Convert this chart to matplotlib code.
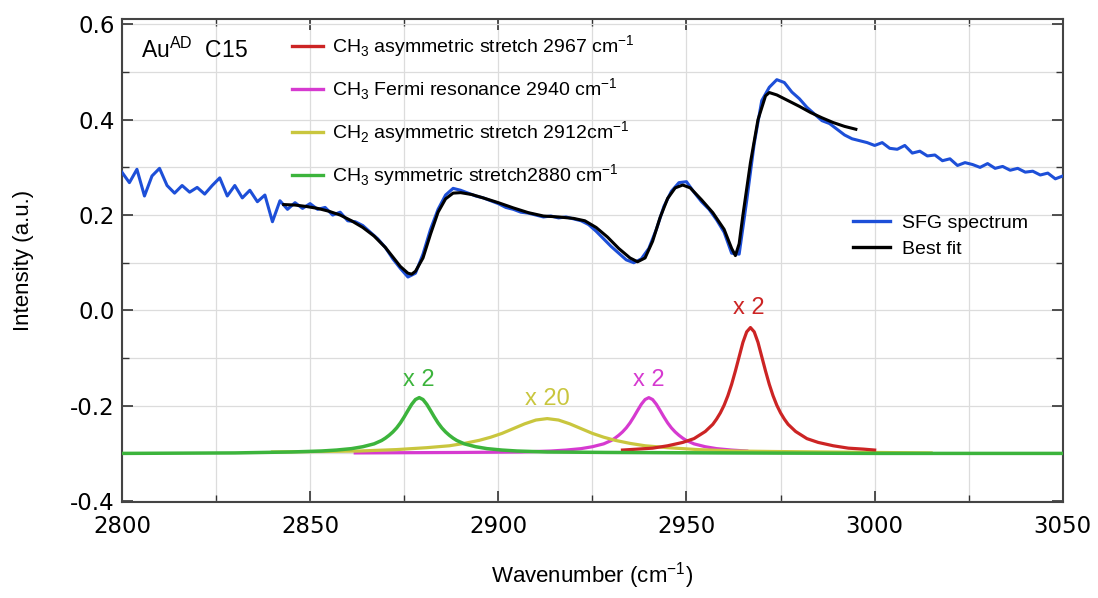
import matplotlib
matplotlib.use("Agg")
import matplotlib.pyplot as plt
from matplotlib.lines import Line2D
from matplotlib.ticker import MultipleLocator, FormatStrFormatter

# ---- measured SFG spectrum (wavenumber, intensity) ----
sfg_wn = list(range(2800, 3051, 2))
sfg_int = [
    0.290, 0.268, 0.296, 0.240, 0.282, 0.298, 0.262, 0.246, 0.262, 0.248,
    0.258, 0.244, 0.262, 0.278, 0.240, 0.262, 0.236, 0.252, 0.228, 0.242,
    0.186, 0.230, 0.212, 0.226, 0.214, 0.224, 0.212, 0.216, 0.200, 0.206,
    0.188, 0.186, 0.178, 0.164, 0.150, 0.132, 0.108, 0.088, 0.070, 0.078,
    0.118, 0.170, 0.212, 0.242, 0.256, 0.252, 0.246, 0.240, 0.236, 0.230,
    0.224, 0.216, 0.212, 0.206, 0.204, 0.200, 0.196, 0.198, 0.194, 0.196,
    0.192, 0.188, 0.180, 0.166, 0.150, 0.134, 0.120, 0.106, 0.100, 0.108,
    0.130, 0.170, 0.218, 0.250, 0.268, 0.270, 0.248, 0.228, 0.212, 0.190,
    0.164, 0.120, 0.118, 0.230, 0.350, 0.440, 0.468, 0.484, 0.478, 0.458,
    0.444, 0.426, 0.412, 0.398, 0.392, 0.380, 0.368, 0.360, 0.356, 0.352,
    0.346, 0.352, 0.340, 0.338, 0.346, 0.330, 0.334, 0.324, 0.326, 0.314,
    0.318, 0.304, 0.310, 0.306, 0.300, 0.308, 0.298, 0.302, 0.294, 0.298,
    0.290, 0.292, 0.284, 0.288, 0.276, 0.282,
]

# ---- best fit ----
fit_wn = [2843, 2846, 2849, 2852, 2855, 2858, 2861, 2864, 2867, 2870, 2872,
          2874, 2876, 2877, 2878, 2880, 2882, 2884, 2886, 2888, 2890, 2893,
          2896, 2900, 2904, 2908, 2912, 2916, 2920, 2923, 2926, 2929, 2932,
          2935, 2937, 2939, 2941, 2943, 2945, 2947, 2949, 2951, 2954, 2957,
          2960, 2962, 2963, 2964, 2965, 2967, 2969, 2971, 2972, 2974, 2977,
          2980, 2983, 2986, 2989, 2992, 2995]
fit_int = [0.222, 0.221, 0.218, 0.214, 0.208, 0.200, 0.188, 0.174, 0.156,
           0.132, 0.112, 0.092, 0.078, 0.076, 0.082, 0.110, 0.160, 0.206,
           0.234, 0.246, 0.247, 0.243, 0.236, 0.226, 0.215, 0.205, 0.198,
           0.196, 0.193, 0.188, 0.174, 0.154, 0.130, 0.110, 0.102, 0.110,
           0.145, 0.195, 0.235, 0.257, 0.263, 0.257, 0.232, 0.205, 0.170,
           0.130, 0.115, 0.140, 0.200, 0.310, 0.400, 0.450, 0.457, 0.452,
           0.440, 0.428, 0.415, 0.404, 0.394, 0.386, 0.380]

# ---- fitted components (offset to -0.3) ----
red_wn = [2933, 2937, 2941, 2945, 2949, 2952, 2955, 2957, 2958, 2959, 2960,
          2961, 2962, 2963, 2964, 2965, 2966, 2967, 2968, 2969, 2970, 2971,
          2972, 2973, 2974, 2975, 2976, 2977, 2979, 2982, 2985, 2989, 2993,
          2997, 3000]
red_int = [-0.293, -0.291, -0.289, -0.284, -0.277, -0.269, -0.254, -0.239,
           -0.228, -0.215, -0.199, -0.179, -0.155, -0.127, -0.097, -0.067,
           -0.045, -0.036, -0.045, -0.067, -0.097, -0.127, -0.155, -0.179,
           -0.199, -0.215, -0.228, -0.239, -0.254, -0.269, -0.277, -0.284,
           -0.289, -0.291, -0.293]

mag_wn = [2862, 2890, 2906, 2910, 2914, 2918, 2922, 2925, 2928, 2930, 2931,
          2932, 2933, 2934, 2935, 2936, 2937, 2938, 2939, 2940, 2941, 2942,
          2943, 2944, 2945, 2946, 2947, 2948, 2949, 2950, 2952, 2955, 2958,
          2962, 2966]
mag_int = [-0.299, -0.298, -0.297, -0.296, -0.295, -0.293, -0.290, -0.286,
           -0.280, -0.273, -0.268, -0.262, -0.255, -0.2465, -0.236, -0.2235,
           -0.210, -0.197, -0.187, -0.183, -0.187, -0.197, -0.210, -0.2235,
           -0.236, -0.2465, -0.255, -0.262, -0.268, -0.273, -0.280, -0.286,
           -0.290, -0.293, -0.295]

yel_wn = [2840, 2853, 2863, 2873, 2881, 2887, 2891, 2895, 2898, 2901, 2904,
          2907, 2910, 2913, 2916, 2919, 2922, 2925, 2928, 2931, 2935, 2939,
          2945, 2953, 2963, 2973, 2986, 3000, 3015]
yel_int = [-0.297, -0.296, -0.295, -0.292, -0.288, -0.284, -0.279, -0.2725,
           -0.266, -0.258, -0.248, -0.238, -0.230, -0.227, -0.230, -0.238,
           -0.248, -0.258, -0.266, -0.2725, -0.279, -0.284, -0.288, -0.292,
           -0.295, -0.296, -0.297, -0.298, -0.299]

grn_wn = [2800, 2830, 2845, 2849, 2853, 2857, 2861, 2864, 2867, 2869, 2870,
          2871, 2872, 2873, 2874, 2875, 2876, 2877, 2878, 2879, 2880, 2881,
          2882, 2883, 2884, 2885, 2886, 2887, 2888, 2889, 2891, 2894, 2897,
          2901, 2905, 2913, 2929, 2960, 3000, 3050]
grn_int = [-0.300, -0.299, -0.297, -0.296, -0.295, -0.293, -0.290, -0.286,
           -0.280, -0.273, -0.268, -0.262, -0.255, -0.2465, -0.236, -0.2235,
           -0.210, -0.197, -0.187, -0.183, -0.187, -0.197, -0.210, -0.2235,
           -0.236, -0.2465, -0.255, -0.262, -0.268, -0.273, -0.280, -0.286,
           -0.290, -0.293, -0.295, -0.297, -0.298, -0.299, -0.300, -0.300]

comp_labels = [
    r"CH$_3$ asymmetric stretch 2967 cm$^{-1}$",
    r"CH$_3$ Fermi resonance 2940 cm$^{-1}$",
    r"CH$_2$ asymmetric stretch 2912cm$^{-1}$",
    r"CH$_3$ symmetric stretch2880 cm$^{-1}$",
]
scale_labels = ["x 2", "x 2", "x 20", "x 2"]

RED, MAG, YEL, GRN = "#cc2424", "#d63ad0", "#c9c63e", "#3cb43c"
BLUE = "#1d4fd8"

plt.rcParams["font.family"] = ["Liberation Sans", "DejaVu Sans"]
plt.rcParams["mathtext.fontset"] = "custom"
plt.rcParams["mathtext.rm"] = "Liberation Sans"

fig = plt.figure(figsize=(10.98, 5.98), dpi=100)
ax = fig.add_axes([0.111, 0.1605, 0.857, 0.8075])

ax.plot(mag_wn, mag_int, color=MAG, lw=2.3, zorder=3)
ax.plot(yel_wn, yel_int, color=YEL, lw=2.3, zorder=3)
ax.plot(red_wn, red_int, color=RED, lw=2.3, zorder=3)
ax.plot(grn_wn, grn_int, color=GRN, lw=2.5, zorder=4)
ax.plot(sfg_wn, sfg_int, color=BLUE, lw=2.2, zorder=5)
ax.plot(fit_wn, fit_int, color="black", lw=2.2, zorder=6)

# scale factors above each component
lab_kw = dict(fontsize=17, ha="center", va="bottom")
ax.text(2966.5, -0.018, scale_labels[0], color=RED, **lab_kw)
ax.text(2940, -0.170, scale_labels[1], color=MAG, **lab_kw)
ax.text(2913, -0.208, scale_labels[2], color=YEL, **lab_kw)
ax.text(2879, -0.170, scale_labels[3], color=GRN, **lab_kw)

ax.text(2805, 0.545, r"Au$^{\rm AD}$  C15", fontsize=16.5, ha="left", va="center")

ax.set_xlim(2800, 3050)
ax.set_ylim(-0.402, 0.611)
ax.xaxis.set_major_locator(MultipleLocator(50))
ax.xaxis.set_minor_locator(MultipleLocator(25))
ax.yaxis.set_major_locator(MultipleLocator(0.2))
ax.yaxis.set_minor_locator(MultipleLocator(0.1))
ax.yaxis.set_major_formatter(FormatStrFormatter("%.1f"))
ax.grid(True, which="both", color="#dcdcdc", lw=0.9)
ax.set_axisbelow(True)
ax.tick_params(which="both", direction="in", top=True, right=True, color="#333333")
ax.tick_params(which="major", length=8, width=1.2, labelsize=16.5)
ax.tick_params(axis="x", which="major", pad=9)
ax.tick_params(axis="y", which="major", pad=5)
ax.tick_params(which="minor", length=5, width=1.0)
for lab in ax.get_xticklabels() + ax.get_yticklabels():
    lab.set_family("DejaVu Sans")
for s in ax.spines.values():
    s.set_color("#444444")
    s.set_linewidth(1.5)

ax.set_xlabel(r"Wavenumber (cm$^{-1}$)", fontsize=16, labelpad=16)
ax.set_ylabel("Intensity (a.u.)", fontsize=16, labelpad=26)

comp_handles = [Line2D([], [], color=c, lw=2.4) for c in (RED, MAG, YEL, GRN)]
leg1 = ax.legend(comp_handles, comp_labels, loc="upper left",
                 bbox_to_anchor=(0.168, 0.995), frameon=False, fontsize=14,
                 handlelength=1.6, handletextpad=0.5, labelspacing=0.86,
                 borderaxespad=0.2)
ax.add_artist(leg1)
main_handles = [Line2D([], [], color=BLUE, lw=2.4), Line2D([], [], color="black", lw=2.4)]
ax.legend(main_handles, ["SFG spectrum", "Best fit"], loc="upper left",
          bbox_to_anchor=(0.765, 0.62), frameon=False, fontsize=14,
          handlelength=1.9, handletextpad=0.6, labelspacing=0.45,
          borderaxespad=0.2)

fig.savefig("out.png", dpi=100)
